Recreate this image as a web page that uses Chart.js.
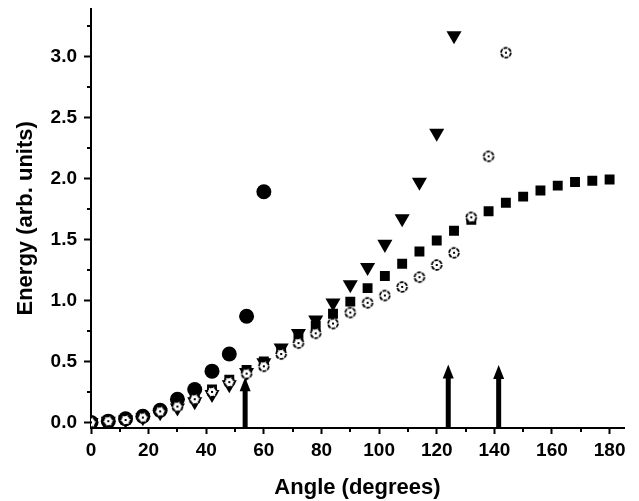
<!DOCTYPE html>
<html>
<head>
<meta charset="utf-8">
<script src="https://cdn.jsdelivr.net/npm/chart.js@4/dist/chart.umd.min.js"></script>
<style>
  html, body { margin: 0; padding: 0; background: #fff; }
  #wrap { width: 639px; height: 501px; }
</style>
</head>
<body>
<div id="wrap"><canvas id="chart" width="639" height="501"></canvas></div>
<script>
// angles sampled every 6 degrees
const angles = [0, 6, 12, 18, 24, 30, 36, 42, 48, 54, 60, 66, 72, 78, 84, 90,
  96, 102, 108, 114, 120, 126, 132, 138, 144, 150, 156, 162, 168, 174, 180];

// open dotted circles (0..144)
const openCircles = [0, 0.01, 0.02, 0.04, 0.09, 0.13, 0.19, 0.25, 0.33, 0.40, 0.46,
  0.56, 0.65, 0.73, 0.81, 0.90, 0.98, 1.04, 1.11, 1.19, 1.29, 1.39, 1.68, 2.18, 3.03];
// filled down triangles (0..126)
const triangles = [0, 0.01, 0.02, 0.04, 0.08, 0.12, 0.17, 0.23, 0.31, 0.41, 0.49,
  0.61, 0.73, 0.84, 0.98, 1.13, 1.27, 1.46, 1.67, 1.97, 2.37, 3.17];
// filled squares (0..180)
const squares = [0, 0.01, 0.02, 0.05, 0.09, 0.14, 0.20, 0.27, 0.35, 0.43, 0.50,
  0.585, 0.69, 0.79, 0.89, 0.99, 1.10, 1.20, 1.30, 1.40, 1.49, 1.57, 1.66, 1.73,
  1.80, 1.85, 1.90, 1.94, 1.97, 1.98, 1.99];
// big filled circles (0..60)
const bigCircles = [0, 0.01, 0.03, 0.05, 0.10, 0.19, 0.27, 0.42, 0.56, 0.87, 1.89];

// vertical arrows
const arrowAngles = [53.5, 124, 141.5];
const arrowTips = [0.37, 0.475, 0.47];

const xTicks = [0, 20, 40, 60, 80, 100, 120, 140, 160, 180];
const xMinor = [10, 30, 50, 70, 90, 110, 130, 150, 170];
const yTicks = [0, 0.5, 1.0, 1.5, 2.0, 2.5, 3.0];
const yMinor = [0.25, 0.75, 1.25, 1.75, 2.25, 2.75, 3.25];

const toPts = vals => vals.map((v, i) => ({ x: angles[i], y: v }));

// dotted open circle with a dot in the middle
const dotCircle = document.createElement('canvas');
dotCircle.width = 14;
dotCircle.height = 14;
(function () {
  const c = dotCircle.getContext('2d');
  c.beginPath();
  c.arc(7, 7, 4.9, 0, Math.PI * 2);
  c.fillStyle = '#fff';
  c.fill();
  c.setLineDash([4, 1]);
  c.lineWidth = 1.8;
  c.strokeStyle = '#000';
  c.stroke();
  c.fillStyle = '#000';
  c.fillRect(6, 6, 2, 2);
})();

const FONT = 'Arial, "Liberation Sans", Helvetica, sans-serif';

const minorTicks = {
  id: 'minorTicks',
  afterDraw(chart) {
    const { ctx, chartArea } = chart;
    const x = chart.scales.x, y = chart.scales.y;
    ctx.save();
    ctx.strokeStyle = '#000';
    ctx.lineWidth = 2;
    ctx.beginPath();
    xMinor.forEach(v => {
      const px = Math.round(x.getPixelForValue(v));
      ctx.moveTo(px, chartArea.bottom);
      ctx.lineTo(px, chartArea.bottom + 4);
    });
    yMinor.forEach(v => {
      const py = Math.round(y.getPixelForValue(v));
      ctx.moveTo(chartArea.left, py);
      ctx.lineTo(chartArea.left - 4, py);
    });
    ctx.stroke();
    ctx.restore();
  }
};

const arrows = {
  id: 'arrows',
  beforeDatasetsDraw(chart) {
    const { ctx, chartArea } = chart;
    const x = chart.scales.x, y = chart.scales.y;
    ctx.save();
    ctx.fillStyle = '#000';
    arrowAngles.forEach((a, i) => {
      const px = x.getPixelForValue(a);
      const tip = y.getPixelForValue(arrowTips[i]);
      const head = 14;
      ctx.fillRect(px - 2.5, tip + head - 1, 5, chartArea.bottom - tip - head + 1);
      ctx.beginPath();
      ctx.moveTo(px, tip);
      ctx.lineTo(px + 5.5, tip + head);
      ctx.lineTo(px - 5.5, tip + head);
      ctx.closePath();
      ctx.fill();
    });
    ctx.restore();
  }
};

new Chart(document.getElementById('chart').getContext('2d'), {
  type: 'scatter',
  data: {
    datasets: [
      {
        data: toPts(openCircles),
        pointStyle: dotCircle,
      },
      {
        data: toPts(triangles),
        pointStyle: 'triangle',
        rotation: 180,
        pointRadius: 8.7,
        backgroundColor: '#000',
        borderWidth: 0,
      },
      {
        data: toPts(squares),
        pointStyle: 'rect',
        pointRadius: 7,
        backgroundColor: '#000',
        borderWidth: 0,
      },
      {
        data: toPts(bigCircles),
        pointStyle: 'circle',
        pointRadius: 7.5,
        backgroundColor: '#000',
        borderWidth: 0,
      },
    ],
  },
  options: {
    responsive: false,
    animation: false,
    events: [],
    layout: { padding: { left: 0, top: 5, right: 15, bottom: 0 } },
    plugins: {
      legend: { display: false },
      tooltip: { enabled: false },
    },
    scales: {
      x: {
        type: 'linear',
        min: 0,
        max: 185,
        afterFit: s => {
          s.height = 73;
          s.paddingLeft = 0;
          s.paddingRight = 0;
        },
        afterBuildTicks: s => { s.ticks = xTicks.map(v => ({ value: v })); },
        border: { display: true, color: '#000', width: 2 },
        grid: { drawOnChartArea: false, drawTicks: true, tickLength: 6, tickWidth: 2, tickColor: '#000' },
        ticks: {
          color: '#000',
          padding: 5,
          maxRotation: 0,
          autoSkip: false,
          font: { family: FONT, size: 19, weight: 'bold' },
        },
        title: {
          display: true,
          text: 'Angle (degrees)',
          color: '#000',
          padding: { top: 0, bottom: 0 },
          font: { family: FONT, size: 22, weight: 'bold' },
        },
      },
      y: {
        type: 'linear',
        min: -0.046,
        max: 3.39,
        afterFit: s => {
          s.width = 91;
          s.paddingTop = 0;
          s.paddingBottom = 0;
        },
        afterBuildTicks: s => { s.ticks = yTicks.map(v => ({ value: v })); },
        border: { display: true, color: '#000', width: 2 },
        grid: { drawOnChartArea: false, drawTicks: true, tickLength: 7, tickWidth: 2, tickColor: '#000' },
        ticks: {
          color: '#000',
          padding: 7,
          autoSkip: false,
          callback: v => Number(v).toFixed(1),
          font: { family: FONT, size: 19, weight: 'bold' },
        },
        title: {
          display: true,
          text: 'Energy (arb. units)',
          color: '#000',
          padding: { top: 13, bottom: 0 },
          font: { family: FONT, size: 22, weight: 'bold' },
        },
      },
    },
  },
  plugins: [arrows, minorTicks],
});
</script>
</body>
</html>
